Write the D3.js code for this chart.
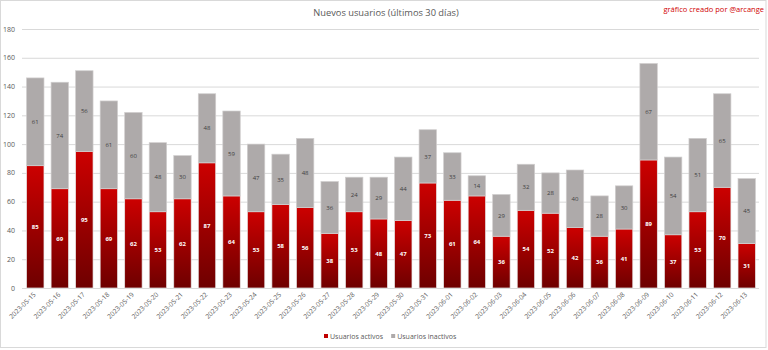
<!DOCTYPE html>
<html><head><meta charset="utf-8">
<script src="https://cdn.jsdelivr.net/npm/d3@7"></script>
<style>body{margin:0;background:#fff}svg{display:block}text{font-family:"Open Sans",sans-serif}</style>
</head><body><svg id="c" width="768" height="350"></svg>
<script>
const dates = ["2023-05-15","2023-05-16","2023-05-17","2023-05-18","2023-05-19","2023-05-20","2023-05-21","2023-05-22","2023-05-23","2023-05-24","2023-05-25","2023-05-26","2023-05-27","2023-05-28","2023-05-29","2023-05-30","2023-05-31","2023-06-01","2023-06-02","2023-06-03","2023-06-04","2023-06-05","2023-06-06","2023-06-07","2023-06-08","2023-06-09","2023-06-10","2023-06-11","2023-06-12","2023-06-13"];
const activos = [85,69,95,69,62,53,62,87,64,53,58,56,38,53,48,47,73,61,64,36,54,52,42,36,41,89,37,53,70,31];
const inactivos = [61,74,56,61,60,48,30,48,59,47,35,48,36,24,29,44,37,33,14,29,32,28,40,28,30,67,54,51,65,45];
const yTicks = [0,20,40,60,80,100,120,140,160,180];
const title = "Nuevos usuarios (últimos 30 días)";
const credit = "gráfico creado por @arcange";
const seriesNames = ["Usuarios activos","Usuarios inactivos"];

const svg = d3.select("#c");
const defs = svg.append("defs");
const g1 = defs.append("linearGradient").attr("id","gr").attr("x1",0).attr("y1",0).attr("x2",0).attr("y2",1);
g1.append("stop").attr("offset","0%").attr("stop-color","#cc0000");
g1.append("stop").attr("offset","100%").attr("stop-color","#6e0000");

svg.append("rect").attr("x",0.5).attr("y",0.5).attr("width",765.5).attr("height",347).attr("fill","#fff").attr("stroke","#d9d9d9");

const x = d3.scaleBand().domain(dates).range([23,759]).paddingInner(0.29).paddingOuter(0.145);
const y = d3.scaleLinear().domain([0,180]).range([288,29]);

// grid
svg.append("g").selectAll("line").data(yTicks).join("line")
  .attr("x1",22).attr("x2",759).attr("y1",d=>y(d)+0.5).attr("y2",d=>y(d)+0.5)
  .attr("stroke","#d9d9d9").attr("stroke-width",1);
svg.append("g").selectAll("text").data(yTicks).join("text")
  .attr("x",15).attr("y",d=>y(d)+2.5).attr("text-anchor","end")
  .attr("font-size",7).attr("fill","#595959").text(d=>d);

const data = dates.map((d,i)=>({d,a:activos[i],n:inactivos[i]}));
const bw = x.bandwidth();
// active
svg.append("g").selectAll("rect").data(data).join("rect")
  .attr("x",d=>x(d.d)).attr("width",bw)
  .attr("y",d=>y(d.a)).attr("height",d=>y(0)-y(d.a))
  .attr("fill","url(#gr)").attr("stroke","#e8e8e8").attr("stroke-width",0.7);
// inactive
svg.append("g").selectAll("rect").data(data).join("rect")
  .attr("x",d=>x(d.d)).attr("width",bw)
  .attr("y",d=>y(d.a+d.n)).attr("height",d=>y(d.a)-y(d.a+d.n))
  .attr("fill","#aeaaaa").attr("stroke","#d0cece").attr("stroke-width",0.7);
// labels
svg.append("g").selectAll("text").data(data).join("text")
  .attr("x",d=>x(d.d)+bw/2).attr("y",d=>y(d.a/2)+2.2)
  .attr("text-anchor","middle").attr("font-size",6).attr("font-weight","bold").attr("fill","#fff").text(d=>d.a);
svg.append("g").selectAll("text").data(data).join("text")
  .attr("x",d=>x(d.d)+bw/2).attr("y",d=>y(d.a+d.n/2)+2.2)
  .attr("text-anchor","middle").attr("font-size",6).attr("fill","#404040").text(d=>d.n);

// x axis labels
svg.append("g").selectAll("text").data(dates).join("text")
  .attr("transform",d=>`translate(${x(d)+bw/2+1},${295}) rotate(-45)`)
  .attr("text-anchor","end").attr("font-size",6.6).attr("fill","#595959").text(d=>d);

// title
svg.append("text").attr("x",386).attr("y",16).attr("text-anchor","middle")
  .attr("font-size",9.3).attr("fill","#595959").text(title);
svg.append("text").attr("x",764).attr("y",12).attr("text-anchor","end")
  .attr("font-size",7.5).attr("fill","#d00000").text(credit);

// legend
const lg = svg.append("g");
const lcol = ["#c00000","#aeaaaa"];
let cx = 324;
seriesNames.forEach((s,i)=>{
  lg.append("rect").attr("x",cx).attr("y",334).attr("width",4).attr("height",4).attr("fill",lcol[i]);
  const t = lg.append("text").attr("x",cx+6).attr("y",338.5).attr("font-size",7).attr("fill","#595959").text(s);
  cx += 6 + t.node().getComputedTextLength() + 8;
});
</script></body></html>
